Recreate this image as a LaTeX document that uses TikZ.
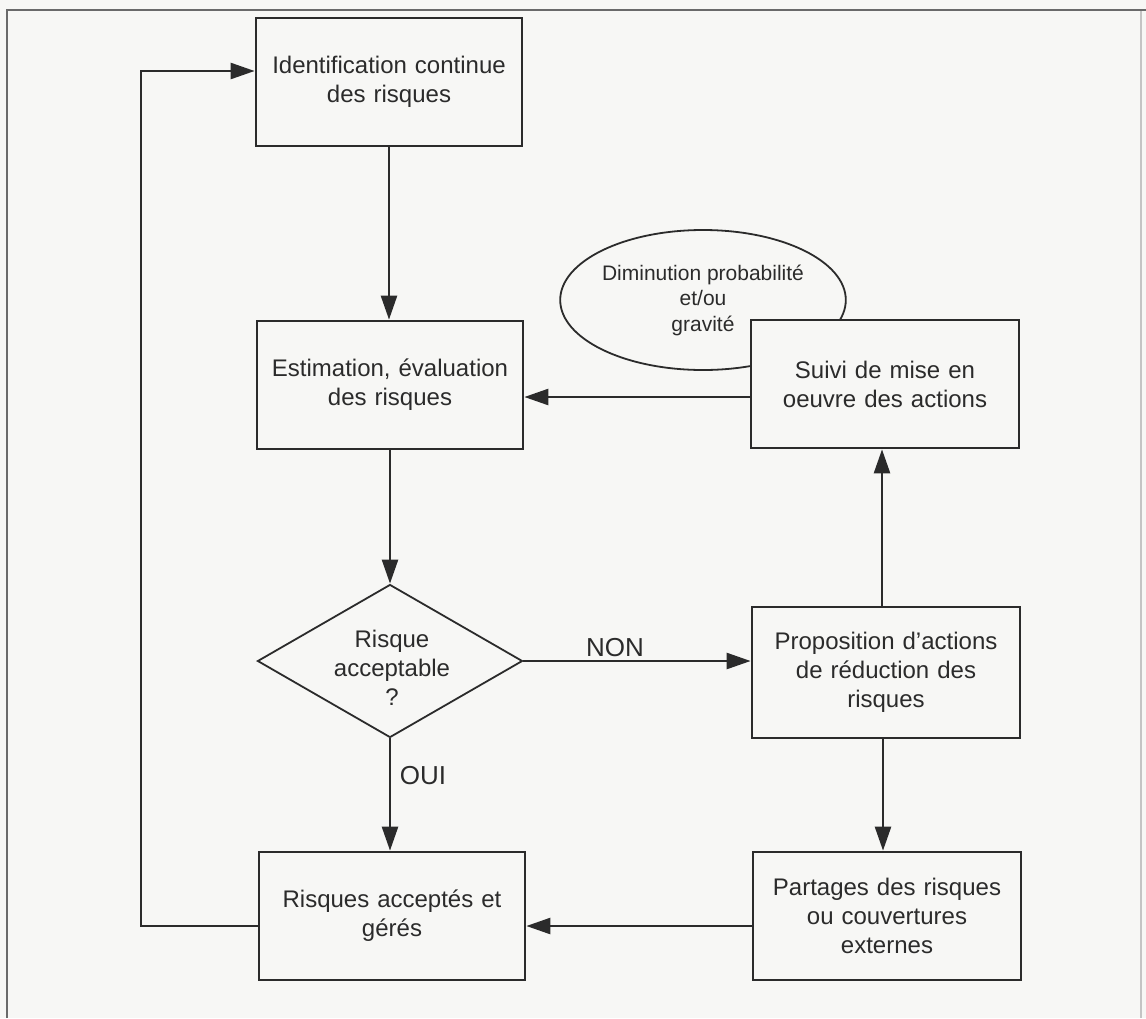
\documentclass[tikz,border=0pt]{standalone}
\usepackage{fontspec}
\setmainfont{Liberation Sans}
\usetikzlibrary{arrows.meta,shapes.geometric,calc}

\definecolor{ink}{HTML}{2B2B2B}
\definecolor{paper}{HTML}{F7F7F5}
\definecolor{framecol}{HTML}{6A6A6A}
\definecolor{faintframe}{HTML}{C4C4C4}

\tikzset{
  procbox/.style={draw=ink, line width=2.7pt, fill=paper, rectangle,
    minimum width=266pt, minimum height=128pt, inner sep=0pt,
    text width=250pt, align=center, text=ink,
    font=\fontsize{24}{29}\selectfont},
  decision/.style={draw=ink, line width=1.8pt, fill=paper, diamond,
    minimum width=265pt, minimum height=153pt, inner sep=0pt},
  note/.style={draw=ink, line width=1.8pt, fill=paper, ellipse,
    minimum width=284pt, minimum height=140pt, inner sep=0pt,
    align=center, text=ink, font=\fontsize{21}{25.5}\selectfont},
  flow/.style={draw=ink, line width=2.5pt,
    -{Triangle[length=24pt,width=16pt]}},
  tag/.style={text=ink, font=\fontsize{26}{31}\selectfont, inner sep=0pt}
}

\begin{document}
\begin{tikzpicture}[x=1pt,y=-1pt]
  % page background and margins
  \fill[paper] (0,0) rectangle (1146,1018);
  \useasboundingbox (0,0) rectangle (1146,1018);

  % border of the sheet
  \draw[faintframe, line width=1.5pt] (1141,10) -- (1141,1018);
  \draw[framecol, line width=2pt] (7,1018) -- (7,10) -- (1146,10);

  % nodes of the flowchart
  \node[procbox] (ident) at (389,82)  {Identification continue\\des risques};
  \node[procbox] (estim) at (390,385) {Estimation, évaluation\\des risques};
  \node[decision] (accept) at (390,661) {};
  \node[text=ink, align=center, inner sep=0pt,
        font=\fontsize{24}{29}\selectfont] (accepttxt) at (392,668)
        {Risque\\acceptable\\?};
  \node[procbox] (gere)  at (392,916) {Risques acceptés et\\gérés};

  \node[note] (dimin) at (703,300) {Diminution probabilité\\et/ou\\gravité};
  \node[procbox, minimum width=268pt] (suivi) at (885,384)
        {Suivi de mise en\\oeuvre des actions};
  \node[procbox, minimum width=268pt, minimum height=131pt] (propo) at (886,672.5)
        {Proposition d’actions\\de réduction des\\risques};
  \node[procbox, minimum width=268pt] (partage) at (887,916)
        {Partages des risques\\ou couvertures\\externes};

  % return path of the loop
  \coordinate (loopx) at (141,0);
  \coordinate (identin) at ([yshift=11pt]ident.west);
  \coordinate (gereout) at ([yshift=-10pt]gere.west);

  % connectors
  \draw[flow] (ident) -- (ident |- estim.north);
  \draw[flow] (estim) -- (accept);
  \draw[flow] (accept.south) -- (accept.south |- gere.north);
  \draw[flow] (accept.east) -- (accept.east -| propo.west);
  \draw[flow] ([xshift=-4pt]propo.north) -- ([xshift=-4pt]propo.north |- suivi.south);
  \draw[flow] ([yshift=-13pt]suivi.west) -- ([yshift=-13pt]suivi.west -| estim.east);
  \draw[flow] ([xshift=-3pt]propo.south) -- ([xshift=-3pt]propo.south |- partage.north);
  \draw[flow] ([yshift=-10pt]partage.west) -- ([yshift=-10pt]partage.west -| gere.east);
  \draw[flow] (gereout) -- (gereout -| loopx) -- (loopx |- identin) -- (identin);

  % branch labels
  \node[tag] (non) at (615,648) {NON};
  \node[tag] (oui) at (423,776) {OUI};
\end{tikzpicture}
\end{document}
